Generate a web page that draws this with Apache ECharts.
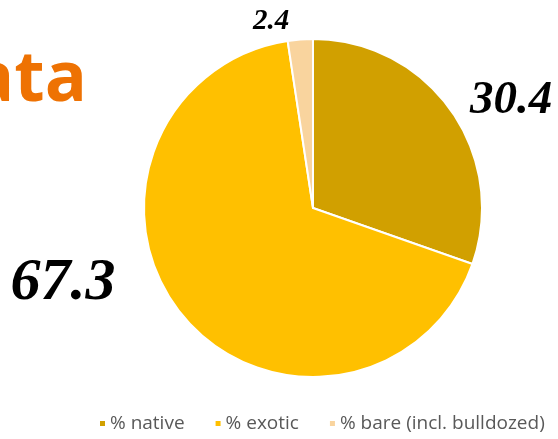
<!DOCTYPE html>
<html><head><meta charset="utf-8">
<script src="https://cdn.jsdelivr.net/npm/echarts@6/dist/echarts.min.js"></script>
<style>html,body{margin:0;padding:0;background:#fff}#c{width:558px;height:439px}</style>
</head><body><div id="c"></div>
<script>
var categories = ['% native', '% exotic', '% bare (incl. bulldozed)'];
var values = [30.4, 67.3, 2.4];
var labelText = ['30.4', '67.3', '2.4'];
var colors = ['#D1A000', '#FFC000', '#F9D49E'];
var labelSizes = [47, 60, 29];
var labelPos = [[511, 101], [63, 283], [271, 22]];

var chart = echarts.init(document.getElementById('c'), null, {renderer: 'canvas'});
chart.setOption({
  animation: false,
  color: colors,
  graphic: [{
    type: 'text', right: 471, top: 46,
    style: {text: 'Data', font: 'bold 70px "Open Sans"', fill: '#EE7203'}
  }],
  legend: {
    bottom: 1, left: 93,
    itemWidth: 7, itemHeight: 7, itemGap: 29,
    icon: 'rect',
    textStyle: {color: '#595959', fontSize: 19, fontFamily: 'Open Sans', padding: [0, 0, 0, -1]},
    data: categories
  },
  series: [{
    type: 'pie',
    center: [313, 208],
    radius: 169,
    startAngle: 90,
    clockwise: true,
    itemStyle: {borderColor: '#fff', borderWidth: 2},
    label: {
      show: true, position: 'outside', overflow: 'none',
      fontFamily: '"Liberation Serif"', fontStyle: 'italic', fontWeight: 'bold', color: '#000',
      formatter: function (p) { return labelText[p.dataIndex]; }
    },
    labelLine: {show: false},
    labelLayout: function (p) {
      var pos = labelPos[p.dataIndex];
      return {x: pos[0], y: pos[1], align: 'center', verticalAlign: 'middle'};
    },
    data: categories.map(function (c, i) {
      return {name: c, value: values[i], label: {fontSize: labelSizes[i]}};
    })
  }]
});
</script></body></html>
